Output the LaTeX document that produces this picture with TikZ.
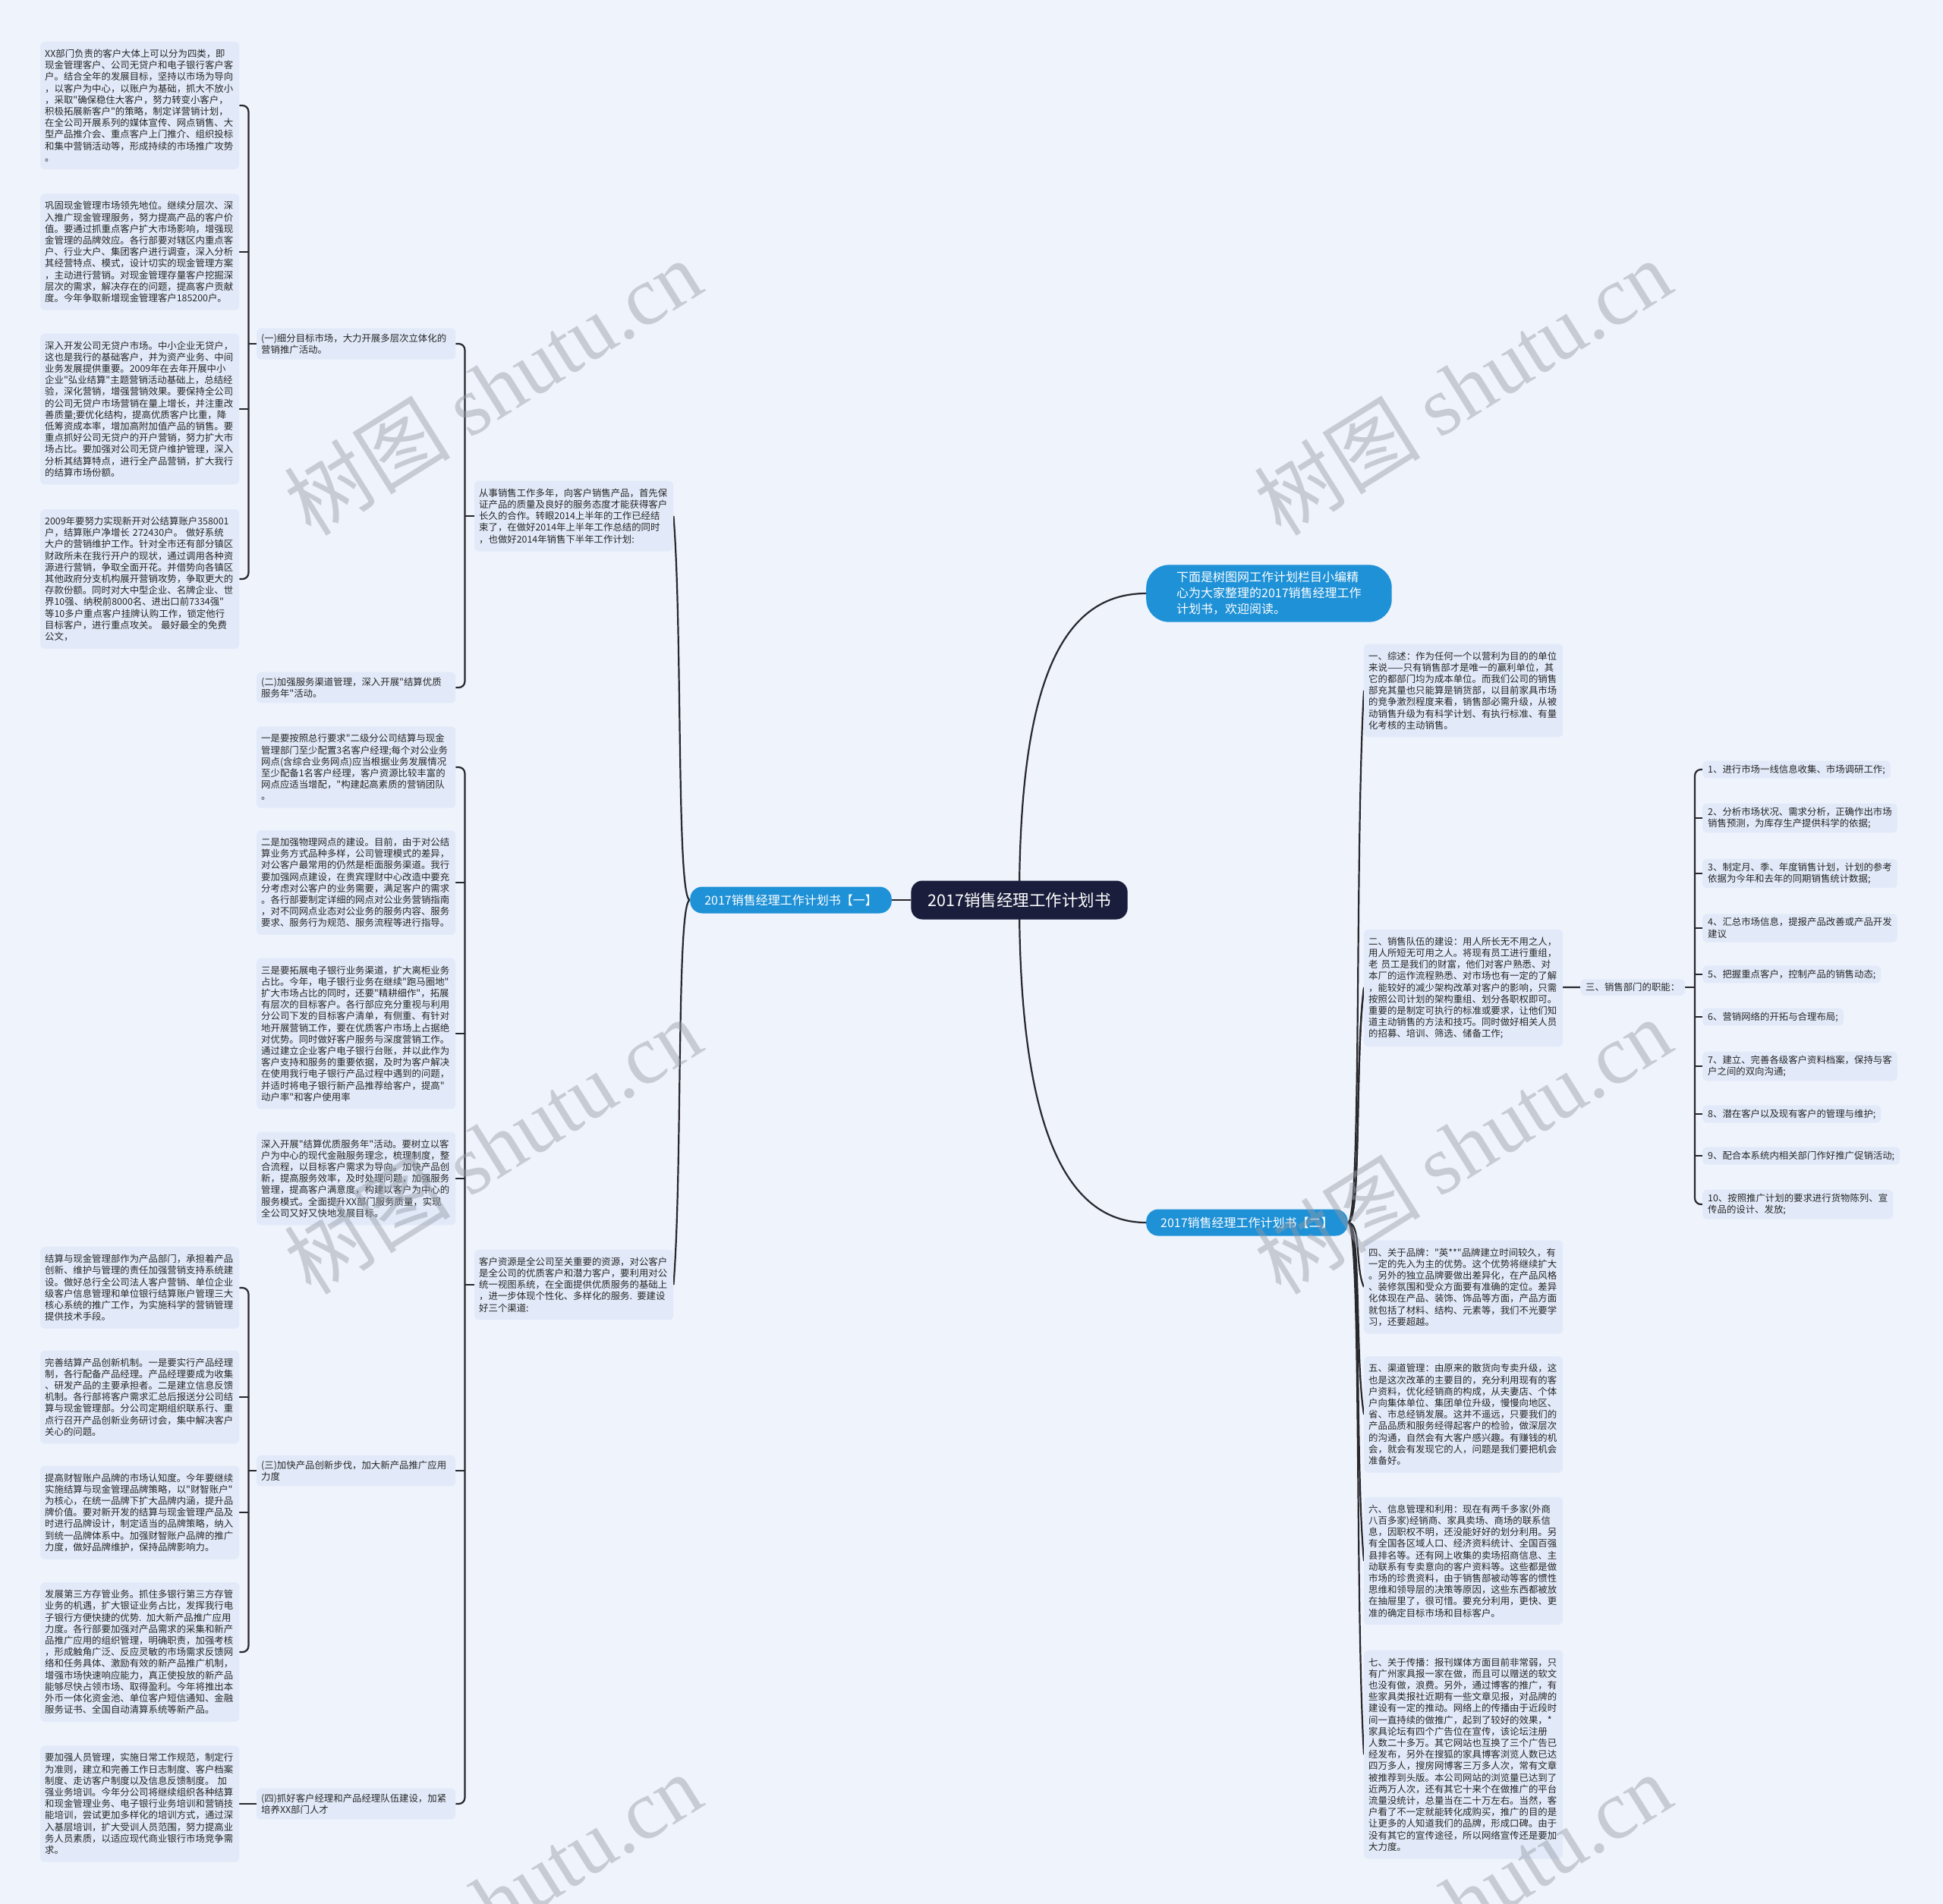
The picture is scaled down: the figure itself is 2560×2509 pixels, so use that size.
\documentclass[tikz,border=0pt]{standalone}
\usepackage{fontspec}
\setmainfont{Noto Sans CJK SC}[Ligatures=TeXOff]
\newfontfamily\wmfont{Liberation Serif}

\definecolor{bgc}{RGB}{238,243,252}
\definecolor{boxc}{RGB}{226,234,249}
\definecolor{navy}{RGB}{26,30,60}
\definecolor{topicblue}{RGB}{30,145,215}
\definecolor{linec}{RGB}{40,40,45}
\definecolor{wmc}{RGB}{150,155,165}

\pgfdeclarelayer{bg}
\pgfdeclarelayer{lines}
\pgfsetlayers{bg,lines,main}

\tikzset{
  para/.style={fill=boxc, rounded corners=6pt, anchor=west, align=left,
    text width=250pt, inner xsep=6pt, inner ysep=10pt, text=black!85,
    font=\fontsize{12.4}{15.2}\selectfont},
  lbl/.style={para, inner ysep=7pt},
  item/.style={fill=boxc, rounded corners=6pt, anchor=west, align=left,
    inner xsep=7pt, inner ysep=5pt, text=black!85,
    font=\fontsize{12.4}{15.6}\selectfont},
  ctrnode/.style={fill=navy, text=white, rounded corners=15pt,
    minimum height=51pt, inner xsep=22pt, font=\fontsize{21.5}{26}\selectfont},
  branch/.style={fill=topicblue, text=white, rounded corners=16pt,
    minimum height=35pt, inner xsep=19pt, font=\fontsize{16}{20}\selectfont},
  intro/.style={branch, align=left, rounded corners=30pt, inner xsep=40pt,
    inner ysep=9pt, font=\fontsize{16}{21}\selectfont},
  link/.style={draw=linec, line width=2.2pt},
  brk/.style={link, rounded corners=8pt},
  wm/.style={rotate=32, text=wmc, opacity=0.45, inner sep=0pt,
    font=\fontsize{110}{110}\selectfont}
}

\begin{document}
\begin{tikzpicture}[x=1pt, y=-1pt]

\begin{pgfonlayer}{bg}
  \fill[bgc] (0,0) rectangle (2560,2509);
\end{pgfonlayer}
\useasboundingbox (0,0) rectangle (2560,2509);

% ---------- centre ----------
\node[ctrnode] (ctr) at (1343,1186) {2017销售经理工作计划书};
\node[branch] (br1) at (1042,1186) {2017销售经理工作计划书【一】};
\node[intro, anchor=west] (intro) at (1510,782) {下面是树图网工作计划栏目小编精\\心为大家整理的2017销售经理工作\\计划书，欢迎阅读。};
\node[branch, anchor=west] (br2) at (1510,1611) {2017销售经理工作计划书【二】};

% ---------- branch one ----------
\node[para] (lead) at (625,680) {从事销售工作多年，向客户销售产品，首先保\\证产品的质量及良好的服务态度才能获得客户\\长久的合作。转眼2014上半年的工作已经结\\束了，在做好2014年上半年工作总结的同时\\，也做好2014年销售下半年工作计划:};
\node[para] (res) at (625,1693) {客户资源是全公司至关重要的资源，对公客户\\是全公司的优质客户和潜力客户，要利用对公\\统一视图系统，在全面提供优质服务的基础上\\，进一步体现个性化、多样化的服务. 要建设\\好三个渠道:};

\node[lbl] (s1) at (338,453) {(一)细分目标市场，大力开展多层次立体化的\\营销推广活动。};
\node[lbl] (s2) at (338,906) {(二)加强服务渠道管理，深入开展"结算优质\\服务年"活动。};

\node[para] (p1) at (53,139) {XX部门负责的客户大体上可以分为四类，即\\现金管理客户、公司无贷户和电子银行客户客\\户。结合全年的发展目标，坚持以市场为导向\\，以客户为中心，以账户为基础，抓大不放小\\，采取"确保稳住大客户，努力转变小客户，\\积极拓展新客户"的策略，制定详营销计划，\\在全公司开展系列的媒体宣传、网点销售、大\\型产品推介会、重点客户上门推介、组织投标\\和集中营销活动等，形成持续的市场推广攻势\\。};
\node[para] (p2) at (53,332) {巩固现金管理市场领先地位。继续分层次、深\\入推广现金管理服务，努力提高产品的客户价\\值。要通过抓重点客户扩大市场影响，增强现\\金管理的品牌效应。各行部要对辖区内重点客\\户、行业大户、集团客户进行调查，深入分析\\其经营特点、模式，设计切实的现金管理方案\\，主动进行营销。对现金管理存量客户挖掘深\\层次的需求，解决存在的问题，提高客户贡献\\度。今年争取新增现金管理客户185200户。};
\node[para] (p3) at (53,539) {深入开发公司无贷户市场。中小企业无贷户，\\这也是我行的基础客户，并为资产业务、中间\\业务发展提供重要。2009年在去年开展中小\\企业"弘业结算"主题营销活动基础上，总结经\\验，深化营销，增强营销效果。要保持全公司\\的公司无贷户市场营销在量上增长，并注重改\\善质量;要优化结构，提高优质客户比重，降\\低筹资成本率，增加高附加值产品的销售。要\\重点抓好公司无贷户的开户营销，努力扩大市\\场占比。要加强对公司无贷户维护管理，深入\\分析其结算特点，进行全产品营销，扩大我行\\的结算市场份额。};
\node[para] (p4) at (53,763) {2009年要努力实现新开对公结算账户358001\\户，结算账户净增长 272430户。 做好系统\\大户的营销维护工作。针对全市还有部分镇区\\财政所未在我行开户的现状，通过调用各种资\\源进行营销，争取全面开花。并借势向各镇区\\其他政府分支机构展开营销攻势，争取更大的\\存款份额。同时对大中型企业、名牌企业、世\\界10强、纳税前8000名、进出口前7334强"\\等10多户重点客户挂牌认购工作，锁定他行\\目标客户，进行重点攻关。 最好最全的免费\\公文，};

\node[para] (c1) at (338,1011) {一是要按照总行要求"二级分公司结算与现金\\管理部门至少配置3名客户经理;每个对公业务\\网点(含综合业务网点)应当根据业务发展情况\\至少配备1名客户经理，客户资源比较丰富的\\网点应适当增配，"构建起高素质的营销团队\\。};
\node[para] (c2) at (338,1163) {二是加强物理网点的建设。目前，由于对公结\\算业务方式品种多样，公司管理模式的差异，\\对公客户最常用的仍然是柜面服务渠道。我行\\要加强网点建设，在贵宾理财中心改造中要充\\分考虑对公客户的业务需要，满足客户的需求\\。各行部要制定详细的网点对公业务营销指南\\，对不同网点业态对公业务的服务内容、服务\\要求、服务行为规范、服务流程等进行指导。};
\node[para] (c3) at (338,1362) {三是要拓展电子银行业务渠道，扩大离柜业务\\占比。今年，电子银行业务在继续"跑马圈地"\\扩大市场占比的同时，还要"精耕细作"，拓展\\有层次的目标客户。各行部应充分重视与利用\\分公司下发的目标客户清单，有侧重、有针对\\地开展营销工作，要在优质客户市场上占据绝\\对优势。同时做好客户服务与深度营销工作。\\通过建立企业客户电子银行台账，并以此作为\\客户支持和服务的重要依据，及时为客户解决\\在使用我行电子银行产品过程中遇到的问题，\\并适时将电子银行新产品推荐给客户，提高"\\动户率"和客户使用率};
\node[para] (c4) at (338,1553) {深入开展"结算优质服务年"活动。要树立以客\\户为中心的现代金融服务理念，梳理制度，整\\合流程，以目标客户需求为导向。加快产品创\\新，提高服务效率，及时处理问题，加强服务\\管理，提高客户满意度，构建以客户为中心的\\服务模式。全面提升XX部门服务质量，实现\\全公司又好又快地发展目标。};
\node[lbl] (s3) at (338,1938) {(三)加快产品创新步伐，加大新产品推广应用\\力度};
\node[lbl] (s4) at (338,2377) {(四)抓好客户经理和产品经理队伍建设，加紧\\培养XX部门人才};

\node[para] (q1) at (53,1697) {结算与现金管理部作为产品部门，承担着产品\\创新、维护与管理的责任加强营销支持系统建\\设。做好总行全公司法人客户营销、单位企业\\级客户信息管理和单位银行结算账户管理三大\\核心系统的推广工作，为实施科学的营销管理\\提供技术手段。};
\node[para] (q2) at (53,1841) {完善结算产品创新机制。一是要实行产品经理\\制，各行配备产品经理。产品经理要成为收集\\、研发产品的主要承担者。二是建立信息反馈\\机制。各行部将客户需求汇总后报送分公司结\\算与现金管理部。分公司定期组织联系行、重\\点行召开产品创新业务研讨会，集中解决客户\\关心的问题。};
\node[para] (q3) at (53,1993) {提高财智账户品牌的市场认知度。今年要继续\\实施结算与现金管理品牌策略，以"财智账户"\\为核心，在统一品牌下扩大品牌内涵，提升品\\牌价值。要对新开发的结算与现金管理产品及\\时进行品牌设计，制定适当的品牌策略，纳入\\到统一品牌体系中。加强财智账户品牌的推广\\力度，做好品牌维护，保持品牌影响力。};
\node[para] (q4) at (53,2177) {发展第三方存管业务。抓住多银行第三方存管\\业务的机遇，扩大银证业务占比，发挥我行电\\子银行方便快捷的优势. 加大新产品推广应用\\力度。各行部要加强对产品需求的采集和新产\\品推广应用的组织管理，明确职责，加强考核\\，形成触角广泛、反应灵敏的市场需求反馈网\\络和任务具体、激励有效的新产品推广机制，\\增强市场快速响应能力，真正使投放的新产品\\能够尽快占领市场、取得盈利。今年将推出本\\外币一体化资金池、单位客户短信通知、金融\\服务证书、全国自动清算系统等新产品。};
\node[para] (q5) at (53,2377) {要加强人员管理，实施日常工作规范，制定行\\为准则，建立和完善工作日志制度、客户档案\\制度、走访客户制度以及信息反馈制度。 加\\强业务培训。今年分公司将继续组织各种结算\\和现金管理业务、电子银行业务培训和营销技\\能培训，尝试更加多样化的培训方式，通过深\\入基层培训，扩大受训人员范围，努力提高业\\务人员素质，以适应现代商业银行市场竞争需\\求。};

% ---------- branch two ----------
\node[para] (r1) at (1797,910) {一、综述：作为任何一个以营利为目的的单位\\来说——只有销售部才是唯一的赢利单位，其\\它的都部门均为成本单位。而我们公司的销售\\部充其量也只能算是销货部，以目前家具市场\\的竞争激烈程度来看，销售部必需升级，从被\\动销售升级为有科学计划、有执行标准、有量\\化考核的主动销售。};
\node[para] (r2) at (1797,1302) {二、销售队伍的建设：用人所长无不用之人，\\用人所短无可用之人。将现有员工进行重组，\\老 员工是我们的财富，他们对客户熟悉、对\\本厂的运作流程熟悉、对市场也有一定的了解\\，能较好的减少架构改革对客户的影响，只需\\按照公司计划的架构重组、划分各职权即可。\\重要的是制定可执行的标准或要求，让他们知\\道主动销售的方法和技巧。同时做好相关人员\\的招募、培训、筛选、储备工作;};
\node[item] (r3) at (2082,1301) {三、销售部门的职能：};
\node[para] (r4) at (1797,1696) {四、关于品牌："英**"品牌建立时间较久，有\\一定的先入为主的优势。这个优势将继续扩大\\。另外的独立品牌要做出差异化，在产品风格\\、装修氛围和受众方面要有准确的定位。差异\\化体现在产品、装饰、饰品等方面，产品方面\\就包括了材料、结构、元素等，我们不光要学\\习，还要超越。};
\node[para] (r5) at (1797,1864) {五、渠道管理：由原来的散货向专卖升级，这\\也是这次改革的主要目的，充分利用现有的客\\户资料，优化经销商的构成，从夫妻店、个体\\户向集体单位、集团单位升级，慢慢向地区、\\省、市总经销发展。这并不遥远，只要我们的\\产品品质和服务经得起客户的检验，做深层次\\的沟通，自然会有大客户感兴趣。有赚钱的机\\会，就会有发现它的人，问题是我们要把机会\\准备好。};
\node[para] (r6) at (1797,2057) {六、信息管理和利用：现在有两千多家(外商\\八百多家)经销商、家具卖场、商场的联系信\\息，因职权不明，还没能好好的划分利用。另\\有全国各区域人口、经济资料统计、全国百强\\县排名等。还有网上收集的卖场招商信息、主\\动联系有专卖意向的客户资料等。这些都是做\\市场的珍贵资料，由于销售部被动等客的惯性\\思维和领导层的决策等原因，这些东西都被放\\在抽屉里了，很可惜。要充分利用，更快、更\\准的确定目标市场和目标客户。};
\node[para] (r7) at (1797,2312) {七、关于传播：报刊媒体方面目前非常弱，只\\有广州家具报一家在做，而且可以赠送的软文\\也没有做，浪费。另外，通过博客的推广，有\\些家具类报社近期有一些文章见报，对品牌的\\建设有一定的推动。网络上的传播由于近段时\\间一直持续的做推广，起到了较好的效果，*\\*家具论坛有四个广告位在宣传，该论坛注册\\人数二十多万。其它网站也互换了三个广告已\\经发布，另外在搜狐的家具博客浏览人数已达\\四万多人，搜房网博客三万多人次，常有文章\\被推荐到头版。本公司网站的浏览量已达到了\\近两万人次，还有其它十来个在做推广的平台\\流量没统计，总量当在二十万左右。当然，客\\户看了不一定就能转化成购买，推广的目的是\\让更多的人知道我们的品牌，形成口碑。由于\\没有其它的宣传途径，所以网络宣传还是要加\\大力度。};

\node[item] (f1)  at (2243,1014) {1、进行市场一线信息收集、市场调研工作;};
\node[item] (f2)  at (2243,1078) {2、分析市场状况、需求分析，正确作出市场\\销售预测，为库存生产提供科学的依据;};
\node[item] (f3)  at (2243,1151) {3、制定月、季、年度销售计划，计划的参考\\依据为今年和去年的同期销售统计数据;};
\node[item] (f4)  at (2243,1223) {4、汇总市场信息，提报产品改善或产品开发\\建议};
\node[item] (f5)  at (2243,1284) {5、把握重点客户，控制产品的销售动态;};
\node[item] (f6)  at (2243,1340) {6、营销网络的开拓与合理布局;};
\node[item] (f7)  at (2243,1405) {7、建立、完善各级客户资料档案，保持与客\\户之间的双向沟通;};
\node[item] (f8)  at (2243,1468) {8、潜在客户以及现有客户的管理与维护;};
\node[item] (f9)  at (2243,1523) {9、配合本系统内相关部门作好推广促销活动;};
\node[item] (f10) at (2243,1587) {10、按照推广计划的要求进行货物陈列、宣\\传品的设计、发放;};

% ---------- connectors ----------
\begin{pgfonlayer}{lines}
  \draw[link] (ctr.west) -- (br1.east);
  \draw[link] (ctr.center) .. controls +(0,-290) and +(-110,0) .. (intro.west);
  \draw[link] (ctr.center) .. controls +(0,290) and +(-110,0) .. (br2.west);

  \draw[link] (br1.west) .. controls +(-18,0) and +(12,150) .. (lead.east);
  \draw[link] (br1.west) .. controls +(-18,0) and +(12,-150) .. (res.east);

  % lead -> (一) (二)
  \draw[link] (lead.west) -- ++(-13,0);
  \draw[brk] (s1.east) -- ++(12,0) |- (s2.east);

  % (一) -> four paragraphs
  \draw[link] (s1.west) -- ++(-11,0);
  \draw[brk] (p1.east) -- ++(12,0) |- (p4.east);
  \foreach \n in {p2,p3} \draw[link] (\n.east) -- ++(12,0);

  % res -> six items
  \draw[link] (res.west) -- ++(-13,0);
  \draw[brk] (c1.east) -- ++(12,0) |- (s4.east);
  \foreach \n in {c2,c3,c4,s3} \draw[link] (\n.east) -- ++(12,0);

  % (三) -> four paragraphs, (四) -> one
  \draw[link] (s3.west) -- ++(-11,0);
  \draw[brk] (q1.east) -- ++(12,0) |- (q4.east);
  \foreach \n in {q2,q3} \draw[link] (\n.east) -- ++(12,0);
  \draw[link] (s4.west) -- (q5.east);

  % branch two
  \draw[link] (br2.east) .. controls +(18,0) and +(-12,210) .. (r1.west);
  \draw[link] (br2.east) .. controls +(18,0) and +(-12,93) .. (r2.west);
  \draw[link] (br2.east) .. controls +(18,0) and +(-12,93) .. (r2.west) -- (r3.west);
  \draw[link] (br2.east) .. controls +(18,0) and +(-12,-26) .. (r4.west);
  \draw[link] (br2.east) .. controls +(18,0) and +(-12,-76) .. (r5.west);
  \draw[link] (br2.east) .. controls +(18,0) and +(-12,-134) .. (r6.west);
  \draw[link] (br2.east) .. controls +(18,0) and +(-12,-210) .. (r7.west);

  % 三、销售部门的职能 -> ten items
  \draw[link] (r3.east) -- ++(13,0);
  \draw[brk] (f1.west) -- ++(-10,0) |- (f10.west);
  \foreach \n in {f2,f3,f4,f5,f6,f7,f8,f9} \draw[link] (\n.west) -- ++(-10,0);
\end{pgfonlayer}

% ---------- watermark ----------
\foreach \wx/\wy in {649/510, 1927/510, 649/1510, 1927/1510, 649/2505, 1927/2505}
  \node[wm] at (\wx,\wy) {树图 {\wmfont shutu.cn}};

\end{tikzpicture}
\end{document}
